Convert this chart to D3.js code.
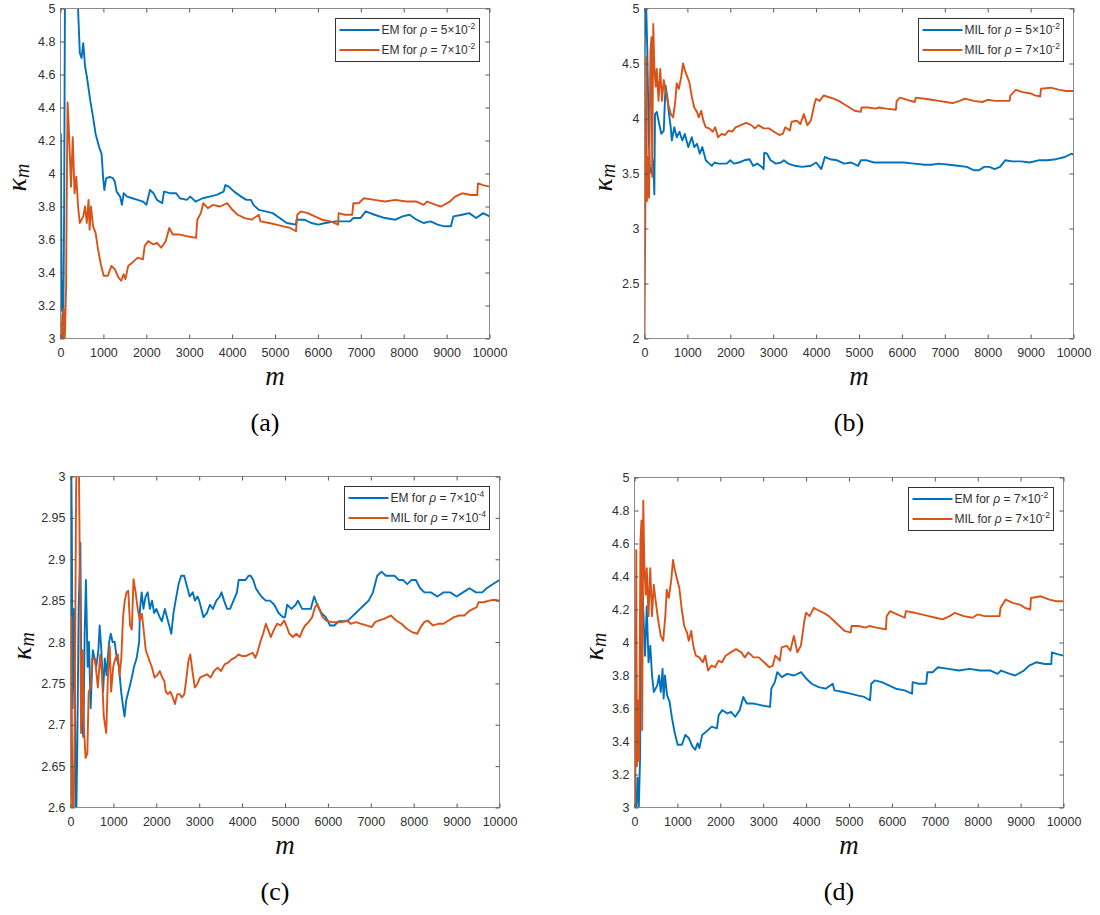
<!DOCTYPE html>
<html>
<head>
<meta charset="utf-8">
<script src="https://cdn.jsdelivr.net/npm/d3@7/dist/d3.min.js"></script>
<style>
body { margin: 0; background: #fff; }
svg { display: block; }
</style>
</head>
<body>
<div id="chart"></div>
<script>
// ---- data: [m, kappa_m] ----
var emRho5e2 = [[0,3.6],[8,4.24],[28,3.17],[45,3.35],[60,2.9],[85,3.8],[106,5.2],[200,5.5],[300,5.3],[409,5.0],[450,4.73],[490,4.70],[530,4.79],[572,4.65],[613,4.59],[695,4.44],[760,4.34],[818,4.24],[900,4.16],[957,4.12],[998,3.96],[1022,3.90],[1063,3.97],[1145,3.98],[1226,3.97],[1267,3.95],[1308,3.89],[1390,3.86],[1431,3.81],[1472,3.88],[1553,3.86],[1676,3.85],[1799,3.84],[1922,3.83],[2003,3.81],[2085,3.90],[2167,3.88],[2249,3.84],[2371,3.82],[2412,3.89],[2576,3.88],[2698,3.88],[2780,3.85],[2944,3.84],[3025,3.86],[3148,3.83],[3312,3.85],[3475,3.86],[3639,3.87],[3802,3.89],[3843,3.93],[3925,3.92],[4048,3.89],[4211,3.86],[4334,3.84],[4440,3.84],[4497,3.81],[4620,3.78],[4783,3.77],[4947,3.76],[5110,3.73],[5274,3.70],[5490,3.69],[5503,3.72],[5683,3.72],[5846,3.70],[6010,3.69],[6173,3.70],[6419,3.71],[6582,3.71],[6746,3.71],[6827,3.73],[6991,3.73],[7114,3.77],[7318,3.75],[7563,3.73],[7808,3.72],[7972,3.74],[8135,3.75],[8299,3.72],[8463,3.70],[8626,3.71],[8790,3.69],[8953,3.68],[9100,3.68],[9158,3.74],[9362,3.75],[9526,3.76],[9690,3.73],[9853,3.76],[10000,3.74]];

var emRho7e2 = [[0,3.15],[20,3.05],[40,2.98],[70,3.18],[100,3.0],[130,3.3],[150,4.0],[165,4.43],[190,4.3],[204,4.20],[245,3.92],[286,4.22],[327,3.88],[368,3.98],[409,3.80],[450,3.70],[531,3.74],[572,3.80],[613,3.70],[654,3.84],[679,3.66],[711,3.80],[760,3.68],[818,3.64],[875,3.54],[940,3.45],[1006,3.38],[1104,3.38],[1186,3.44],[1267,3.42],[1349,3.37],[1415,3.35],[1472,3.39],[1513,3.36],[1578,3.44],[1676,3.46],[1799,3.49],[1922,3.48],[1962,3.56],[2044,3.59],[2167,3.57],[2249,3.58],[2347,3.55],[2453,3.59],[2535,3.67],[2617,3.63],[2780,3.63],[2944,3.62],[3160,3.61],[3189,3.72],[3271,3.76],[3328,3.82],[3434,3.79],[3557,3.81],[3720,3.80],[3884,3.82],[4007,3.78],[4129,3.75],[4293,3.73],[4456,3.72],[4620,3.75],[4661,3.71],[4865,3.70],[5029,3.69],[5192,3.68],[5356,3.67],[5490,3.65],[5519,3.75],[5601,3.77],[5765,3.76],[5928,3.74],[6092,3.72],[6296,3.71],[6470,3.69],[6484,3.76],[6623,3.75],[6800,3.75],[6827,3.82],[6950,3.82],[7073,3.85],[7318,3.84],[7563,3.83],[7808,3.84],[8054,3.83],[8299,3.83],[8463,3.81],[8545,3.83],[8749,3.81],[8872,3.80],[9076,3.83],[9199,3.86],[9362,3.88],[9566,3.87],[9715,3.87],[9730,3.94],[9853,3.93],[10000,3.92]];

var milRho5e2 = [[0,4.39],[16,5.0],[41,5.0],[65,4.62],[98,3.86],[122,3.56],[163,3.50],[204,3.62],[229,3.31],[245,4.04],[286,4.06],[343,3.95],[392,3.86],[449,3.89],[490,4.30],[531,4.20],[571,4.04],[612,3.92],[637,3.80],[694,3.92],[751,3.83],[816,3.88],[882,3.80],[939,3.86],[1020,3.74],[1102,3.83],[1159,3.74],[1224,3.77],[1290,3.68],[1347,3.74],[1429,3.62],[1510,3.59],[1567,3.57],[1633,3.60],[1714,3.59],[1796,3.59],[1918,3.59],[2000,3.62],[2082,3.59],[2204,3.60],[2327,3.62],[2449,3.63],[2531,3.57],[2629,3.59],[2735,3.56],[2776,3.54],[2792,3.69],[2857,3.68],[2939,3.62],[3061,3.59],[3184,3.60],[3249,3.62],[3347,3.59],[3510,3.57],[3673,3.56],[3878,3.57],[4000,3.60],[4122,3.54],[4204,3.65],[4327,3.63],[4490,3.62],[4653,3.59],[4816,3.60],[4980,3.57],[5045,3.62],[5184,3.62],[5347,3.60],[5510,3.60],[5673,3.60],[5878,3.60],[6041,3.60],[6286,3.59],[6531,3.58],[6694,3.58],[6857,3.59],[7102,3.58],[7306,3.57],[7510,3.56],[7673,3.53],[7796,3.53],[7918,3.56],[8041,3.56],[8163,3.54],[8286,3.56],[8408,3.62],[8571,3.61],[8776,3.61],[8980,3.60],[9184,3.62],[9388,3.62],[9592,3.63],[9796,3.65],[9959,3.68],[10000,3.67]];

var milRho7e2 = [[0,2.0],[16,2.95],[33,4.01],[41,4.56],[57,3.25],[82,3.65],[106,3.28],[139,4.62],[163,4.74],[180,3.47],[204,4.86],[229,4.47],[261,4.29],[286,4.45],[327,4.16],[367,4.45],[408,4.16],[449,4.35],[490,4.26],[555,4.13],[612,4.04],[669,4.01],[718,4.16],[751,4.32],[800,4.27],[857,4.38],[898,4.50],[939,4.44],[996,4.38],[1045,4.33],[1102,4.20],[1159,4.10],[1224,4.06],[1265,4.01],[1322,4.07],[1371,3.98],[1429,3.92],[1510,3.91],[1592,3.88],[1649,3.92],[1714,3.83],[1796,3.86],[1878,3.85],[1959,3.89],[2041,3.88],[2122,3.92],[2245,3.94],[2367,3.96],[2490,3.94],[2571,3.91],[2653,3.94],[2776,3.91],[2898,3.91],[3020,3.88],[3143,3.85],[3224,3.86],[3282,3.92],[3388,3.89],[3429,3.97],[3551,3.98],[3633,3.95],[3714,4.04],[3796,3.94],[3878,3.98],[3959,4.13],[4000,4.18],[4082,4.16],[4180,4.21],[4245,4.20],[4408,4.18],[4531,4.16],[4653,4.13],[4776,4.10],[4898,4.07],[5040,4.06],[5061,4.10],[5224,4.10],[5388,4.09],[5469,4.10],[5633,4.09],[5860,4.08],[5878,4.16],[5959,4.19],[6122,4.17],[6300,4.15],[6327,4.19],[6531,4.18],[6694,4.17],[6857,4.16],[7020,4.15],[7184,4.14],[7347,4.16],[7469,4.18],[7673,4.16],[7878,4.15],[8000,4.17],[8163,4.16],[8327,4.16],[8510,4.16],[8531,4.21],[8653,4.26],[8816,4.24],[8980,4.23],[9102,4.21],[9225,4.20],[9241,4.27],[9469,4.28],[9673,4.26],[9837,4.25],[10000,4.25]];

var emRho7e4 = [[0,2.74],[10,3.05],[30,2.95],[50,2.72],[80,2.84],[110,2.70],[130,2.57],[160,2.68],[190,2.84],[230,2.92],[260,2.70],[300,2.685],[330,2.81],[360,2.875],[400,2.77],[430,2.80],[470,2.72],[520,2.79],[560,2.78],[600,2.77],[650,2.79],[680,2.82],[720,2.79],[760,2.74],[800,2.78],[840,2.76],[900,2.80],[940,2.81],[980,2.80],[1030,2.80],[1080,2.78],[1130,2.77],[1180,2.74],[1230,2.72],[1260,2.71],[1300,2.73],[1350,2.74],[1420,2.755],[1480,2.77],[1540,2.78],[1600,2.80],[1620,2.84],[1660,2.86],[1700,2.84],[1750,2.855],[1800,2.86],[1850,2.84],[1900,2.85],[1950,2.835],[2000,2.84],[2080,2.83],[2130,2.825],[2200,2.84],[2250,2.83],[2300,2.82],[2350,2.81],[2400,2.835],[2450,2.85],[2520,2.87],[2580,2.88],[2650,2.88],[2700,2.87],[2780,2.855],[2850,2.86],[2900,2.85],[2960,2.855],[3000,2.85],[3050,2.84],[3100,2.83],[3180,2.835],[3250,2.845],[3320,2.84],[3400,2.85],[3480,2.855],[3520,2.86],[3580,2.85],[3650,2.84],[3720,2.84],[3800,2.85],[3880,2.86],[3920,2.875],[4000,2.875],[4080,2.875],[4150,2.88],[4200,2.88],[4260,2.875],[4320,2.865],[4380,2.86],[4450,2.855],[4550,2.85],[4650,2.85],[4750,2.845],[4850,2.835],[4950,2.83],[5000,2.83],[5050,2.845],[5150,2.84],[5250,2.845],[5300,2.85],[5400,2.84],[5500,2.84],[5600,2.84],[5680,2.855],[5750,2.845],[5850,2.835],[5950,2.83],[6050,2.82],[6150,2.82],[6250,2.825],[6350,2.825],[6450,2.825],[6550,2.83],[6650,2.835],[6750,2.84],[6850,2.845],[6950,2.85],[7050,2.86],[7150,2.88],[7250,2.885],[7350,2.88],[7450,2.88],[7550,2.88],[7650,2.875],[7750,2.875],[7850,2.87],[7950,2.875],[8050,2.875],[8150,2.865],[8250,2.86],[8400,2.86],[8550,2.855],[8700,2.86],[8850,2.86],[9000,2.855],[9150,2.86],[9300,2.865],[9450,2.86],[9600,2.86],[9700,2.865],[9850,2.87],[10000,2.875]];

var milRho7e4 = [[0,2.60],[20,2.83],[41,2.62],[70,2.57],[100,2.72],[130,2.98],[150,3.05],[190,3.05],[215,2.90],[229,2.845],[245,2.69],[286,2.79],[310,2.70],[351,2.66],[392,2.665],[424,2.74],[473,2.745],[506,2.78],[571,2.78],[637,2.745],[694,2.785],[735,2.76],[776,2.71],[833,2.69],[873,2.76],[914,2.795],[947,2.74],[996,2.77],[1045,2.78],[1102,2.785],[1143,2.76],[1184,2.78],[1224,2.83],[1265,2.85],[1306,2.86],[1347,2.862],[1388,2.82],[1429,2.815],[1469,2.876],[1518,2.86],[1567,2.84],[1616,2.826],[1665,2.834],[1714,2.81],[1755,2.79],[1837,2.778],[1894,2.77],[1959,2.757],[2024,2.76],[2082,2.765],[2139,2.757],[2188,2.753],[2220,2.74],[2269,2.737],[2327,2.74],[2384,2.733],[2433,2.725],[2490,2.737],[2547,2.737],[2596,2.733],[2653,2.737],[2694,2.753],[2751,2.778],[2792,2.785],[2841,2.765],[2898,2.745],[2955,2.749],[3020,2.757],[3102,2.759],[3184,2.761],[3265,2.757],[3347,2.765],[3429,2.769],[3510,2.765],[3592,2.773],[3673,2.775],[3755,2.779],[3837,2.781],[3918,2.785],[4000,2.783],[4082,2.783],[4163,2.785],[4245,2.787],[4310,2.781],[4367,2.789],[4424,2.80],[4490,2.81],[4555,2.822],[4612,2.814],[4669,2.806],[4735,2.814],[4816,2.822],[4898,2.82],[4980,2.826],[5045,2.818],[5102,2.81],[5184,2.806],[5265,2.81],[5347,2.806],[5404,2.814],[5469,2.82],[5551,2.824],[5633,2.83],[5698,2.842],[5755,2.846],[5812,2.838],[5878,2.83],[5959,2.826],[6082,2.824],[6204,2.824],[6327,2.824],[6449,2.826],[6531,2.822],[6653,2.824],[6776,2.822],[6898,2.82],[7020,2.818],[7102,2.824],[7184,2.826],[7306,2.828],[7388,2.83],[7469,2.832],[7592,2.826],[7714,2.822],[7837,2.816],[7959,2.812],[8082,2.81],[8163,2.818],[8245,2.824],[8327,2.826],[8449,2.82],[8571,2.822],[8694,2.822],[8816,2.826],[8939,2.83],[9061,2.832],[9184,2.832],[9306,2.838],[9388,2.84],[9469,2.842],[9510,2.848],[9633,2.848],[9755,2.85],[9878,2.851],[10000,2.85]];

// tick values
var xTicks = [0,1000,2000,3000,4000,5000,6000,7000,8000,9000,10000];
var yTicksA = [3,3.2,3.4,3.6,3.8,4,4.2,4.4,4.6,4.8,5];
var yTicksB = [2,2.5,3,3.5,4,4.5,5];
var yTicksC = [2.6,2.65,2.7,2.75,2.8,2.85,2.9,2.95,3];
var yTicksD = [3,3.2,3.4,3.6,3.8,4,4.2,4.4,4.6,4.8,5];

// legend entries: [method, mantissa, exponent]
var legendA = [["EM","5","-2"],["EM","7","-2"]];
var legendB = [["MIL","5","-2"],["MIL","7","-2"]];
var legendC = [["EM","7","-4"],["MIL","7","-4"]];
var legendD = [["EM","7","-2"],["MIL","7","-2"]];

var subtitles = ["(a)","(b)","(c)","(d)"];

var blue = "#0072BD", orange = "#D95319", textColor = "#303030";

var width = 1100, height = 915;

var svg = d3.select("#chart").append("svg")
    .attr("width", width)
    .attr("height", height);

// box = [left, top, right, bottom] of each axes
var panels = [
    {box: [60.5, 8.5, 489.5, 338.5], yDomain: [3, 5], yTicks: yTicksA, lines: [emRho5e2, emRho7e2], legend: legendA, ylabOff: 35},
    {box: [644.5, 8.5, 1073.5, 338.5], yDomain: [2, 5], yTicks: yTicksB, lines: [milRho5e2, milRho7e2], legend: legendB, ylabOff: 33},
    {box: [70.5, 476.5, 499.5, 807.5], yDomain: [2.6, 3], yTicks: yTicksC, lines: [emRho7e4, milRho7e4], legend: legendC, ylabOff: 40},
    {box: [634.5, 477.5, 1063.5, 807.5], yDomain: [3, 5], yTicks: yTicksD, lines: [emRho7e2, milRho7e2], legend: legendD, ylabOff: 32}
];
var colors = [blue, orange];

var fmt = function(v) { return String(+v.toFixed(2)); };
var sans = "'Liberation Sans', Arial, sans-serif";
var serif = "'Liberation Serif', 'DejaVu Serif', serif";

panels.forEach(function(p, i) {
    var x0 = p.box[0], y0 = p.box[1], x1 = p.box[2], y1 = p.box[3];
    var w = x1 - x0, h = y1 - y0;

    var x = d3.scaleLinear().domain([0, 10000]).range([0, w]);
    var y = d3.scaleLinear().domain(p.yDomain).range([h, 0]);

    var g = svg.append("g").attr("transform", "translate(" + x0 + "," + y0 + ")");

    g.append("clipPath").attr("id", "clip" + i)
        .append("rect").attr("width", w).attr("height", h);

    // data lines first, axes drawn over them
    var line = d3.line()
        .x(function(d) { return x(d[0]); })
        .y(function(d) { return y(d[1]); });

    g.append("g").attr("clip-path", "url(#clip" + i + ")")
        .selectAll("path")
        .data(p.lines)
        .enter().append("path")
        .attr("d", line)
        .attr("fill", "none")
        .attr("stroke", function(d, k) { return colors[k]; })
        .attr("stroke-width", 1.9)
        .attr("stroke-linejoin", "round");

    // box
    g.append("rect")
        .attr("width", w).attr("height", h)
        .attr("fill", "none")
        .attr("stroke", "#8c8c8c")
        .attr("stroke-width", 1);

    // axes (inward ticks on all four sides)
    var bottom = g.append("g").attr("transform", "translate(0," + h + ")")
        .call(d3.axisBottom(x).tickValues(xTicks).tickFormat(fmt).tickSizeInner(-4).tickSizeOuter(0).tickPadding(9.5));
    var top = g.append("g")
        .call(d3.axisTop(x).tickValues(xTicks).tickFormat("").tickSizeInner(-4).tickSizeOuter(0));
    var left = g.append("g")
        .call(d3.axisLeft(y).tickValues(p.yTicks).tickFormat(fmt).tickSizeInner(-4).tickSizeOuter(0).tickPadding(5));
    var right = g.append("g").attr("transform", "translate(" + w + ",0)")
        .call(d3.axisRight(y).tickValues(p.yTicks).tickFormat("").tickSizeInner(-4).tickSizeOuter(0));

    [bottom, top, left, right].forEach(function(a) {
        a.select(".domain").remove();
        a.selectAll("line").attr("stroke", "#555").attr("stroke-width", 1);
        a.selectAll("text")
            .attr("fill", textColor)
            .style("font-family", sans)
            .style("font-size", "12.5px");
    });

    // legend
    var leg = g.append("g");
    var legBox = leg.append("rect")
        .attr("fill", "#fff")
        .attr("stroke", "#333")
        .attr("stroke-width", 1);
    var maxLen = 0;
    p.legend.forEach(function(e, k) {
        var ly = 11.5 + k * 20;
        leg.append("line")
            .attr("x1", 4).attr("x2", 44).attr("y1", ly).attr("y2", ly)
            .attr("stroke", colors[k]).attr("stroke-width", 1.9);
        var t = leg.append("text")
            .attr("x", 46).attr("y", ly + 4.3)
            .attr("fill", textColor)
            .style("font-family", sans)
            .style("font-size", "12px");
        t.append("tspan").text(e[0] + " for ");
        t.append("tspan").style("font-style", "italic").text("\u03C1");
        t.append("tspan").text(" = " + e[1] + "\u00D7" + "10");
        t.append("tspan").attr("dy", -5).style("font-size", "8.5px").text(e[2]);
        maxLen = Math.max(maxLen, t.node().getComputedTextLength());
    });
    var lw = Math.round(46 + maxLen + 4), lh = 43;
    legBox.attr("width", lw).attr("height", lh);
    leg.attr("transform", "translate(" + (w - 10 - lw) + ",10)");

    // y label: kappa_m
    var yl = g.append("text")
        .attr("transform", "translate(" + (-p.ylabOff) + "," + (h / 2 + 4) + ") rotate(-90)")
        .attr("text-anchor", "middle")
        .attr("fill", "#111")
        .style("font-family", serif)
        .style("font-style", "italic")
        .style("font-size", "28px");
    yl.append("tspan").text("\u03BA");
    yl.append("tspan").attr("dy", 3).style("font-size", "20px").text("m");

    // x label
    g.append("text")
        .attr("x", w / 2).attr("y", h + 46)
        .attr("text-anchor", "middle")
        .attr("fill", "#111")
        .style("font-family", serif)
        .style("font-style", "italic")
        .style("font-size", "27px")
        .text("m");

    // subtitle
    g.append("text")
        .attr("x", w / 2 - 10).attr("y", h + 92)
        .attr("text-anchor", "middle")
        .attr("fill", "#000")
        .style("font-family", serif)
        .style("font-size", "26px")
        .text(subtitles[i]);
});
</script>
</body>
</html>
